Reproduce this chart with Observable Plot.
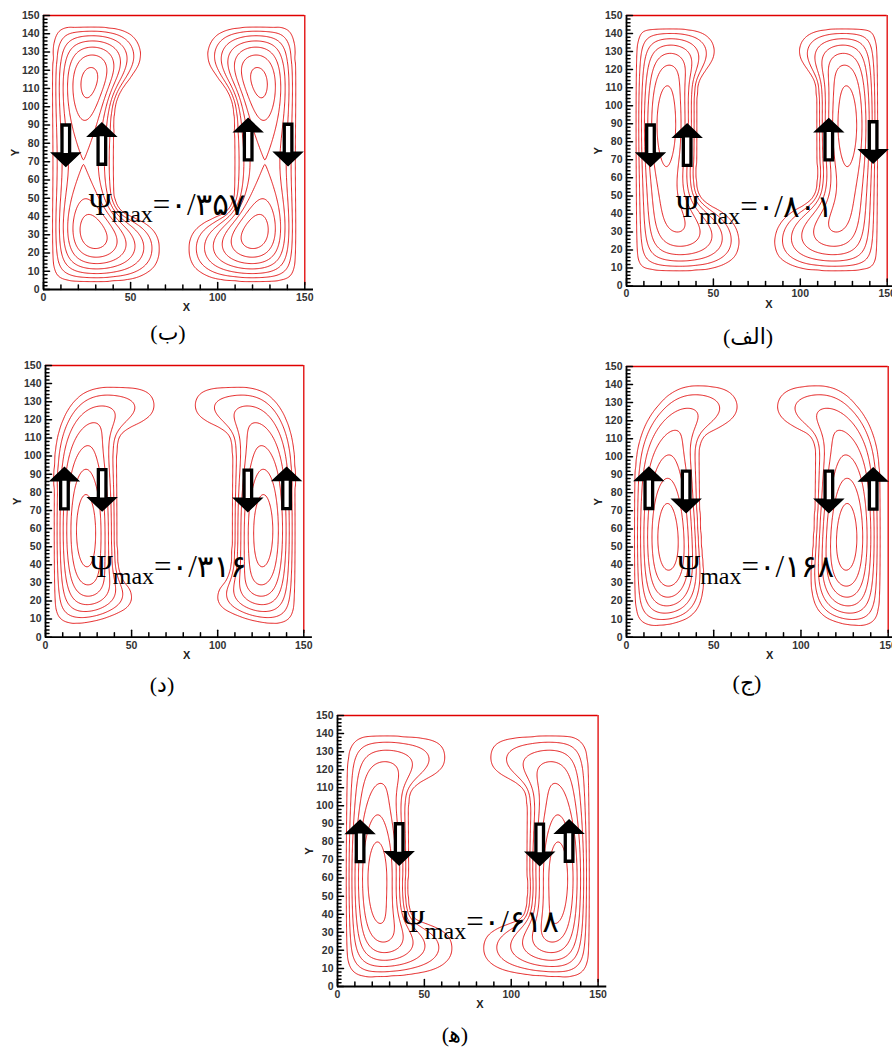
<!DOCTYPE html>
<html><head><meta charset="utf-8">
<script src="https://cdn.jsdelivr.net/npm/d3@7"></script>
<script src="https://cdn.jsdelivr.net/npm/@observablehq/plot@0.6"></script>
<style>
html,body{margin:0;padding:0;background:#fff;}
#wrap{position:relative;width:892px;height:1048px;overflow:hidden;background:#fff;}
.cap{position:absolute;transform:translate(-50%,-50%);font-family:"Liberation Serif","DejaVu Serif","DejaVu Sans",serif;font-size:22px;line-height:24px;white-space:nowrap;direction:rtl;color:#000;}
</style></head><body><div id="wrap"></div>
<script>
// ---------- data (left half of each cavity; right half is its mirror) ----------
const contourLevels = [0.06, 0.2, 0.34, 0.48, 0.62, 0.76, 0.9]; // fractions of psi max
const yTickLabels = [0,10,20,30,40,50,60,70,80,90,100,110,120,130,140,150];
const xTickLabels = [0,50,100,150];
const yMinorTicks = d3.range(0,151,2);
const xMinorTicks = d3.range(0,151,10);

// outer streamline of the left cell, (x, y)
const outlineB = [[9,143.8],[25,144],[40,143.8],[48,142],[54,138],[57,130.6],[56,123.4],[51.3,116.6],[44.5,108],[41.5,100],[41,85],[41,65],[41.2,50],[45,43],[52,40],[59,37],[65.5,31.5],[68,23],[65.5,12.5],[58,7],[47.5,4.5],[30,4],[14,4],[7.3,5.8],[5.3,10],[5,30],[5,75],[5,125],[5.5,138]];
const outlineA = [[8,142.6],[20,143],[35,143],[44,141.5],[50.3,137],[52.2,130.5],[50.8,125],[46,119],[42,113],[41,105],[40.9,80],[40.9,55],[43,49.5],[48,45.5],[55.6,41.8],[63.3,34.4],[66.2,25.2],[64.2,16],[57.5,11.3],[48,8.6],[30,8],[15,8],[7.5,9.2],[5.6,13],[5.3,30],[5.3,75],[5.3,120],[5.8,137]];
const outlineD = [[29,138.6],[39,139],[50,139],[58,138.5],[63.9,135.3],[66.2,128.9],[64.8,122.5],[58,117.8],[48.4,114.1],[43.6,110.5],[42.2,103],[41.8,80],[42,50],[43,38],[46,31],[50.3,27.5],[52.3,20.3],[49.4,15.7],[41.6,12],[29,8.3],[17.4,6.5],[9.7,7.4],[5.8,11],[4.8,25],[4.8,60],[4.8,100],[6.5,112],[9.5,121],[14,129],[20,135]];
const outlineC = [[34,140.3],[48,140.5],[58,139],[64,135],[66.5,129],[65.5,123],[61,118.5],[52,114],[46,111.5],[43,107],[42.2,95],[42.5,70],[43.5,50],[44.7,35],[44.3,24],[42,16],[37,10.5],[28,7],[18,5.5],[10,6],[6,9],[4.5,16],[4.2,40],[4.2,80],[5,100],[7.5,112],[12,122],[18,130],[25,136.5]];
const outlineE = [[12,139],[30,139.5],[48,139],[58,137.5],[63,134],[64.5,128],[63.5,121],[58,116.5],[48,112],[43,108],[41.5,100],[41.2,70],[41.5,45],[44,38.5],[52,35.5],[60,33],[66,29],[68.5,22],[67,15],[60,9.5],[48,6.5],[30,5],[15,4.5],[8.5,6.5],[5.5,11],[5,30],[5,80],[5,125],[6.5,134]];

// where the cell core sits: [x, y, spreadX, spreadY, strength]
const coreB = [[28,112,10,16,1.0],[28,31,10,11,1.0]];
const coreA = [[22.5,89,10,26,1.2]];
const coreD = [[24.5,59,10,27,1.5]];
const coreC = [[24,55,10,28,1.4]];
const coreE = [[23,61,10,27,1.7]];

// flow-direction arrows: [x, y, direction]
const arrowsB = [[12.8,79.1,"down"],[33.5,79.5,"up"],[117.5,81.9,"up"],[140.4,79.5,"down"]];
const arrowsA = [[13.8,78.2,"down"],[34.9,78,"up"],[116.4,81,"up"],[141.9,80,"down"]];
const arrowsD = [[11,81.9,"up"],[32.9,81.5,"down"],[117.5,81.2,"down"],[140,82,"up"]];
const arrowsC = [[12.8,82.4,"up"],[34.2,80.9,"down"],[116,80.9,"down"],[141.4,82,"up"]];
const arrowsE = [[13,80.2,"up"],[35.5,79,"down"],[116.4,78.8,"down"],[133.3,80.4,"up"]];

const psiValues = {B:"۰/۳۵۷", A:"۰/۸۰۱", D:"۰/۳۱۶", C:"۰/۱۶۸", E:"۰/۶۱۸"};
const psiAnchor = {B:[26.2,40.5], A:[28.8,38], D:[26.1,33.1], C:[29.4,33.3], E:[37.4,30]};
const captions = {B:"(ب)", A:"(الف)", D:"(د)", C:"(ج)", E:"(ه\u200D)"};

// ---------- layout ----------
const RED = "#e00000";
const layout = {
  B:{frame:[42.7,14.7,304,288.7], cap:[168,333]},
  A:{frame:[626,14.7,886.7,285.3], cap:[748,337]},
  D:{frame:[45,365,303.3,636.7], cap:[162,685]},
  C:{frame:[626,366,887.7,636.7], cap:[747,683]},
  E:{frame:[336.7,715,597.3,986], cap:[455,1035]}
};
const panelData = {
  B:{outline:outlineB, core:coreB, arrows:arrowsB},
  A:{outline:outlineA, core:coreA, arrows:arrowsA},
  D:{outline:outlineD, core:coreD, arrows:arrowsD},
  C:{outline:outlineC, core:coreC, arrows:arrowsC},
  E:{outline:outlineE, core:coreE, arrows:arrowsE}
};

// ---------- stream function: Poisson solve inside the outer streamline ----------
function rasterMask(outline, h, nx, ny) {
  const cv = document.createElement("canvas");
  cv.width = nx; cv.height = ny;
  const ctx = cv.getContext("2d");
  ctx.fillStyle = "#000";
  ctx.beginPath();
  d3.line().x(p => p[0]/h + 0.5).y(p => p[1]/h + 0.5).curve(d3.curveCatmullRomClosed.alpha(0.5)).context(ctx)(outline);
  ctx.fill();
  const img = ctx.getImageData(0,0,nx,ny).data;
  const m = new Uint8Array(nx*ny);
  for (let k = 0; k < nx*ny; k++) m[k] = img[k*4+3] > 127 ? 1 : 0;
  return m;
}
function sample(g, x, y) {
  const fi = x/g.h, fj = y/g.h;
  const i0 = Math.max(0, Math.min(g.nx-2, Math.floor(fi))), j0 = Math.max(0, Math.min(g.ny-2, Math.floor(fj)));
  const tx = fi - i0, ty = fj - j0, u = g.u, nx = g.nx;
  return (1-tx)*(1-ty)*u[j0*nx+i0] + tx*(1-ty)*u[j0*nx+i0+1] + (1-tx)*ty*u[(j0+1)*nx+i0] + tx*ty*u[(j0+1)*nx+i0+1];
}
function solve(outline, core) {
  const steps = [[2,600],[1,250],[0.5,150]];
  let prev = null;
  for (const [h, iters] of steps) {
    const nx = Math.round(76/h)+1, ny = Math.round(150/h)+1;
    const mask = rasterMask(outline, h, nx, ny);
    for (let i = 0; i < nx; i++) { mask[i] = 0; mask[(ny-1)*nx+i] = 0; }
    for (let j = 0; j < ny; j++) { mask[j*nx] = 0; mask[j*nx+nx-1] = 0; }
    const u = new Float64Array(nx*ny), f = new Float64Array(nx*ny);
    for (let j = 0; j < ny; j++) for (let i = 0; i < nx; i++) {
      const k = j*nx+i; if (!mask[k]) continue;
      const x = i*h, y = j*h;
      let s = 1;
      for (const [cx,cy,sx,sy,a] of core) s += a*Math.exp(-0.5*(((x-cx)/sx)**2 + ((y-cy)/sy)**2));
      f[k] = s*h*h;
      if (prev) u[k] = sample(prev, x, y);
    }
    const w = 1.9;
    for (let it = 0; it < iters; it++) {
      for (let j = 1; j < ny-1; j++) {
        const row = j*nx;
        for (let i = 1; i < nx-1; i++) {
          const k = row+i; if (!mask[k]) continue;
          u[k] += w*((u[k-1]+u[k+1]+u[k-nx]+u[k+nx]+f[k])*0.25 - u[k]);
        }
      }
    }
    prev = {u, nx, ny, h};
  }
  // mirror to the full cavity
  const h = prev.h, G = Math.round(150/h)+1, half = Math.round(75/h);
  const grid = new Float64Array(G*G);
  let max = 0;
  for (let j = 0; j < G; j++) for (let i = 0; i < G; i++) {
    const ii = i <= half ? i : 2*half - i;
    const v = prev.u[j*prev.nx+ii];
    grid[j*G+i] = v; if (v > max) max = v;
  }
  return {grid, G, h, max};
}

// ---------- arrow glyphs ----------
const SW = 0.19, HW = 0.58, HH = 0.55;
const arrowSym = dir => ({draw(ctx, size) {
  const r = Math.sqrt(size/Math.PI), s = dir === "down" ? 1 : -1;
  const sw = r*SW, hw = r*HW, hh = r*HH;
  ctx.moveTo(-sw, -s*r); ctx.lineTo(sw, -s*r); ctx.lineTo(sw, s*(r-hh)); ctx.lineTo(hw, s*(r-hh));
  ctx.lineTo(0, s*r); ctx.lineTo(-hw, s*(r-hh)); ctx.lineTo(-sw, s*(r-hh)); ctx.closePath();
}});
const headSym = dir => ({draw(ctx, size) {
  const r = Math.sqrt(size/Math.PI), s = dir === "down" ? 1 : -1;
  const hw = r*HW, hh = r*HH;
  ctx.moveTo(hw, s*(r-hh)); ctx.lineTo(0, s*r); ctx.lineTo(-hw, s*(r-hh)); ctx.closePath();
}});
const tickShape = {draw(ctx, l) { ctx.moveTo(0,0); ctx.lineTo(0,-l); }};

const wrap = document.getElementById("wrap");
const mL = 36, mR = 16, mT = 10, mB = 34;
const SANS = "'Liberation Sans', Arial, sans-serif";

function arrowMarks(arrows, dir) {
  const data = arrows.filter(a => a[2] === dir);
  return [
    Plot.dot(data, {x: d => d[0], y: d => d[1], r: 20, symbol: arrowSym(dir), fill: "#fff", stroke: "#000", strokeWidth: 3.3, strokeLinejoin: "miter"}),
    Plot.dot(data, {x: d => d[0], y: d => d[1], r: 20, symbol: headSym(dir), fill: "#000", stroke: "#000", strokeWidth: 2, strokeLinejoin: "miter"})
  ];
}

for (const key of ["B","A","D","C","E"]) {
  const {frame, cap} = layout[key];
  const {outline, core, arrows} = panelData[key];
  const fld = solve(outline, core);
  const [l,t,r,b] = frame;
  const W = r - l + mL + mR, H = b - t + mT + mB;
  const h = fld.h;
  const plot = Plot.plot({
    width: W, height: H, marginLeft: mL, marginRight: mR, marginTop: mT, marginBottom: mB,
    x: {domain:[0,150], axis:null}, y: {domain:[0,150], axis:null},
    style: {background:"transparent", overflow:"visible"},
    marks: [
      Plot.contour(fld.grid, {width: fld.G, height: fld.G, x1: -h/2, x2: 150+h/2, y1: -h/2, y2: 150+h/2,
        value: d => d, thresholds: contourLevels.map(c => c*fld.max), blur: 1,
        stroke: RED, fill: "none", strokeWidth: 0.9}),
      Plot.ruleY([150], {stroke: RED, strokeWidth: 1.3}),
      Plot.ruleX([150], {stroke: RED, strokeWidth: 1.3, y1: 2, y2: 150}),
      Plot.ruleX([0], {stroke:"#000", strokeWidth: 1.8}),
      Plot.ruleY([0], {stroke:"#000", strokeWidth: 1.8, x1: 0, x2: 155}),
      Plot.vector(yMinorTicks.filter(v => v % 10 !== 0), {x: 0, y: d => d, length: 3.5, rotate: 90, anchor: "start", shape: tickShape, stroke: "#000"}),
      Plot.vector(yTickLabels, {x: 0, y: d => d, length: 6, rotate: 90, anchor: "start", shape: tickShape, stroke: "#000"}),
      Plot.vector(xMinorTicks.filter(v => v % 50 !== 0), {x: d => d, y: 0, length: 4.5, rotate: 0, anchor: "start", shape: tickShape, stroke: "#000"}),
      Plot.vector(xTickLabels, {x: d => d, y: 0, length: 7, rotate: 0, anchor: "start", shape: tickShape, stroke: "#000"}),
      Plot.text(yTickLabels, {x: 0, y: d => d, text: d => String(d), textAnchor: "end", dx: -4, fontSize: 10.5, fontWeight: "bold", fontFamily: SANS, fill: "#333"}),
      Plot.text(xTickLabels, {x: d => d, y: 0, text: d => String(d), dy: 8, fontSize: 10.5, fontWeight: "bold", fontFamily: SANS, fill: "#333"}),
      Plot.text(["X"], {x: 82, y: 0, text: d => d, dy: 18, fontSize: 11, fontWeight: "bold", fontFamily: SANS, fill: "#222"}),
      Plot.text(["Y"], {x: 0, y: 75, text: d => d, dx: -28, rotate: -90, fontSize: 11, fontWeight: "bold", fontFamily: SANS, fill: "#222"}),
      ...arrowMarks(arrows, "down"),
      ...arrowMarks(arrows, "up")
    ]
  });
  plot.style.position = "absolute";
  plot.style.left = (l - mL) + "px";
  plot.style.top = (t - mT) + "px";
  // psi max label
  const sx = plot.scale("x"), sy = plot.scale("y");
  const [px, py] = psiAnchor[key];
  const txt = d3.select(plot).append("text")
    .attr("x", sx.apply(px)).attr("y", sy.apply(py))
    .attr("text-anchor", "start")
    .attr("font-family", "'Liberation Serif','Times New Roman','DejaVu Sans',serif")
    .attr("font-size", 31).attr("fill", "#000");
  txt.append("tspan").text("Ψ");
  txt.append("tspan").attr("font-size", 24).attr("dy", 7).text("max");
  txt.append("tspan").attr("dy", -7).text("=" + psiValues[key]);
  wrap.appendChild(plot);
  const c = document.createElement("div");
  c.className = "cap";
  c.style.left = cap[0] + "px"; c.style.top = cap[1] + "px";
  c.textContent = captions[key];
  wrap.appendChild(c);
}
</script></body></html>
